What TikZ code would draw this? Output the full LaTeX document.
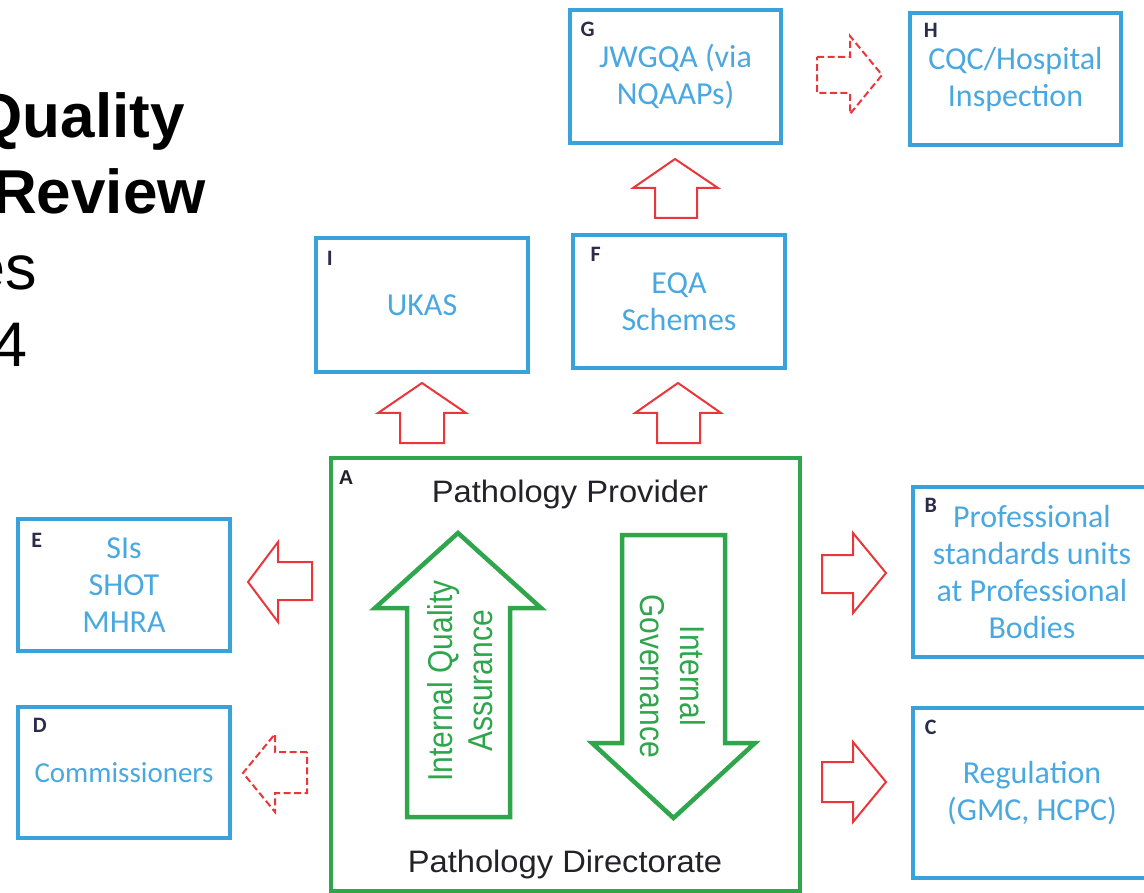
\documentclass[tikz,border=0pt]{standalone}
\usepackage{fontspec}
\setmainfont{Liberation Sans}
\newfontfamily\calibrifont{Carlito}
\usetikzlibrary{calc}
\definecolor{boxblue}{HTML}{3AA2DB}
\definecolor{txtblue}{HTML}{4AA8E0}
\definecolor{arrred}{HTML}{E8363B}
\definecolor{grn}{HTML}{2FA64B}
\definecolor{lbl}{HTML}{2B2B4A}
\definecolor{darktxt}{HTML}{222228}
\tikzset{
  bbox/.style={draw=boxblue, line width=4.5pt, rectangle, inner sep=0pt, text=txtblue,
    align=center, font=\calibrifont\fontsize{32}{37}\selectfont},
  lettr/.style={text=lbl, inner sep=0pt, font=\calibrifont\bfseries\fontsize{22}{22}\selectfont},
  redarr/.style={draw=arrred, line width=2pt, line join=miter},
  reddash/.style={redarr, dash pattern=on 7pt off 3.5pt},
  grnarr/.style={draw=grn, line width=4.5pt, line join=miter},
  titleb/.style={inner sep=0pt, anchor=base east, text=black, font=\bfseries\fontsize{62}{62}\selectfont},
  titler/.style={inner sep=0pt, anchor=base east, text=black, font=\fontsize{63}{63}\selectfont},
  rottxt/.style={inner sep=0pt, text=grn, align=center, font=\fontsize{30}{35}\selectfont},
  pathtxt/.style={inner sep=0pt, anchor=base, text=darktxt, xscale=1.055, font=\fontsize{31}{31}\selectfont}
}
\begin{document}
\begin{tikzpicture}[x=1pt,y=-1pt]
\useasboundingbox (0,0) rectangle (1144,893);
\clip (0,0) rectangle (1144,893);

% title text, cut at the left edge as in the reference
\node[titleb] (t1) at (185,138) {Quality};
\node[titleb] (t2) at (206,214) {Review};
\node[titler] (t3) at (37,290) {es};
\node[titler] (t4) at (28,367) {4};

% blue boxes
\node[bbox, minimum width=211pt, minimum height=133pt] (G) at (675.5,76.5) {JWGQA (via\\NQAAPs)};
\node[bbox, minimum width=211pt, minimum height=132pt] (H) at (1015.5,79) {CQC/Hospital\\Inspection};
\node[bbox, minimum width=212pt, minimum height=134pt] (I) at (422,305) {UKAS};
\node[bbox, minimum width=212pt, minimum height=133pt] (F) at (679,301.5) {EQA\\Schemes};
\node[bbox, minimum width=212pt, minimum height=132pt] (E) at (124,585) {SIs\\SHOT\\MHRA};
\node[bbox, minimum width=212pt, minimum height=131pt, font=\calibrifont\fontsize{29}{34}\selectfont] (D) at (124,772.5) {Commissioners};
\node[bbox, minimum width=238pt, minimum height=170pt] (B) at (1032,572) {Professional\\standards units\\at Professional\\Bodies};
\node[bbox, minimum width=238pt, minimum height=170pt] (C) at (1032,793) {Regulation\\(GMC, HCPC)};

% letter labels
\node[lettr] (Gl) at ($(G.north west)+(20,22)$) {G};
\node[lettr] (Hl) at ($(H.north west)+(23,20)$) {H};
\node[lettr] (Il) at ($(I.north west)+(16,23)$) {I};
\node[lettr] (Fl) at ($(F.north west)+(25,22)$) {F};
\node[lettr] (El) at ($(E.north west)+(21,24)$) {E};
\node[lettr] (Dl) at ($(D.north west)+(24,21)$) {D};
\node[lettr] (Bl) at ($(B.north west)+(20,21)$) {B};
\node[lettr] (Cl) at ($(C.north west)+(20,22)$) {C};

% green provider box
\node[draw=grn, line width=4pt, rectangle, inner sep=0pt, minimum width=469pt, minimum height=433pt] (A) at (565.5,674.5) {};
\node[inner sep=0pt, text=darktxt, font=\bfseries\fontsize{20}{20}\selectfont] (Al) at ($(A.north west)+(17,22)$) {A};
\node[pathtxt] (pp) at (570,502) {Pathology Provider};
\node[pathtxt] (pd) at (565,872) {Pathology Directorate};

% green block arrows
\draw[grnarr] (407,817) -- (407,608) -- (375,608) -- (458,533) -- (541,608) -- (510,608) -- (510,817) -- cycle;
\draw[grnarr] (622,535) -- (725,535) -- (725,743) -- (755,743) -- (673.5,818) -- (592,743) -- (622,743) -- cycle;
\node[rottxt, rotate=90, yscale=1.15] (iqa) at (460,681) {Internal Quality\\Assurance};
\node[rottxt, rotate=-90, yscale=1.15] (ig) at (673,676) {Internal\\Governance};

% red block arrows
\draw[redarr] (400,443) -- (400,413) -- (378,413) -- (422,383) -- (466,413) -- (444,413) -- (444,443) -- cycle;
\draw[redarr] (657,443) -- (657,413) -- (635,413) -- (678,383) -- (721,413) -- (700,413) -- (700,443) -- cycle;
\draw[redarr] (655,218) -- (655,188) -- (633,188) -- (675,159) -- (718,188) -- (697,188) -- (697,218) -- cycle;
\draw[redarr] (312,562) -- (278,562) -- (278,542) -- (248,582) -- (278,622) -- (278,600) -- (312,600) -- cycle;
\draw[reddash] (307,752) -- (275,752) -- (275,734) -- (243,773) -- (275,812) -- (275,793) -- (307,793) -- cycle;
\draw[redarr] (822,555) -- (853,555) -- (853,533) -- (886,573) -- (853,613) -- (853,593) -- (822,593) -- cycle;
\draw[redarr] (822,762) -- (853,762) -- (853,742) -- (886,782) -- (853,822) -- (853,802) -- (822,802) -- cycle;
\draw[reddash] (817,57) -- (850,57) -- (850,36) -- (882,75) -- (850,114) -- (850,93) -- (817,93) -- cycle;
\end{tikzpicture}
\end{document}
